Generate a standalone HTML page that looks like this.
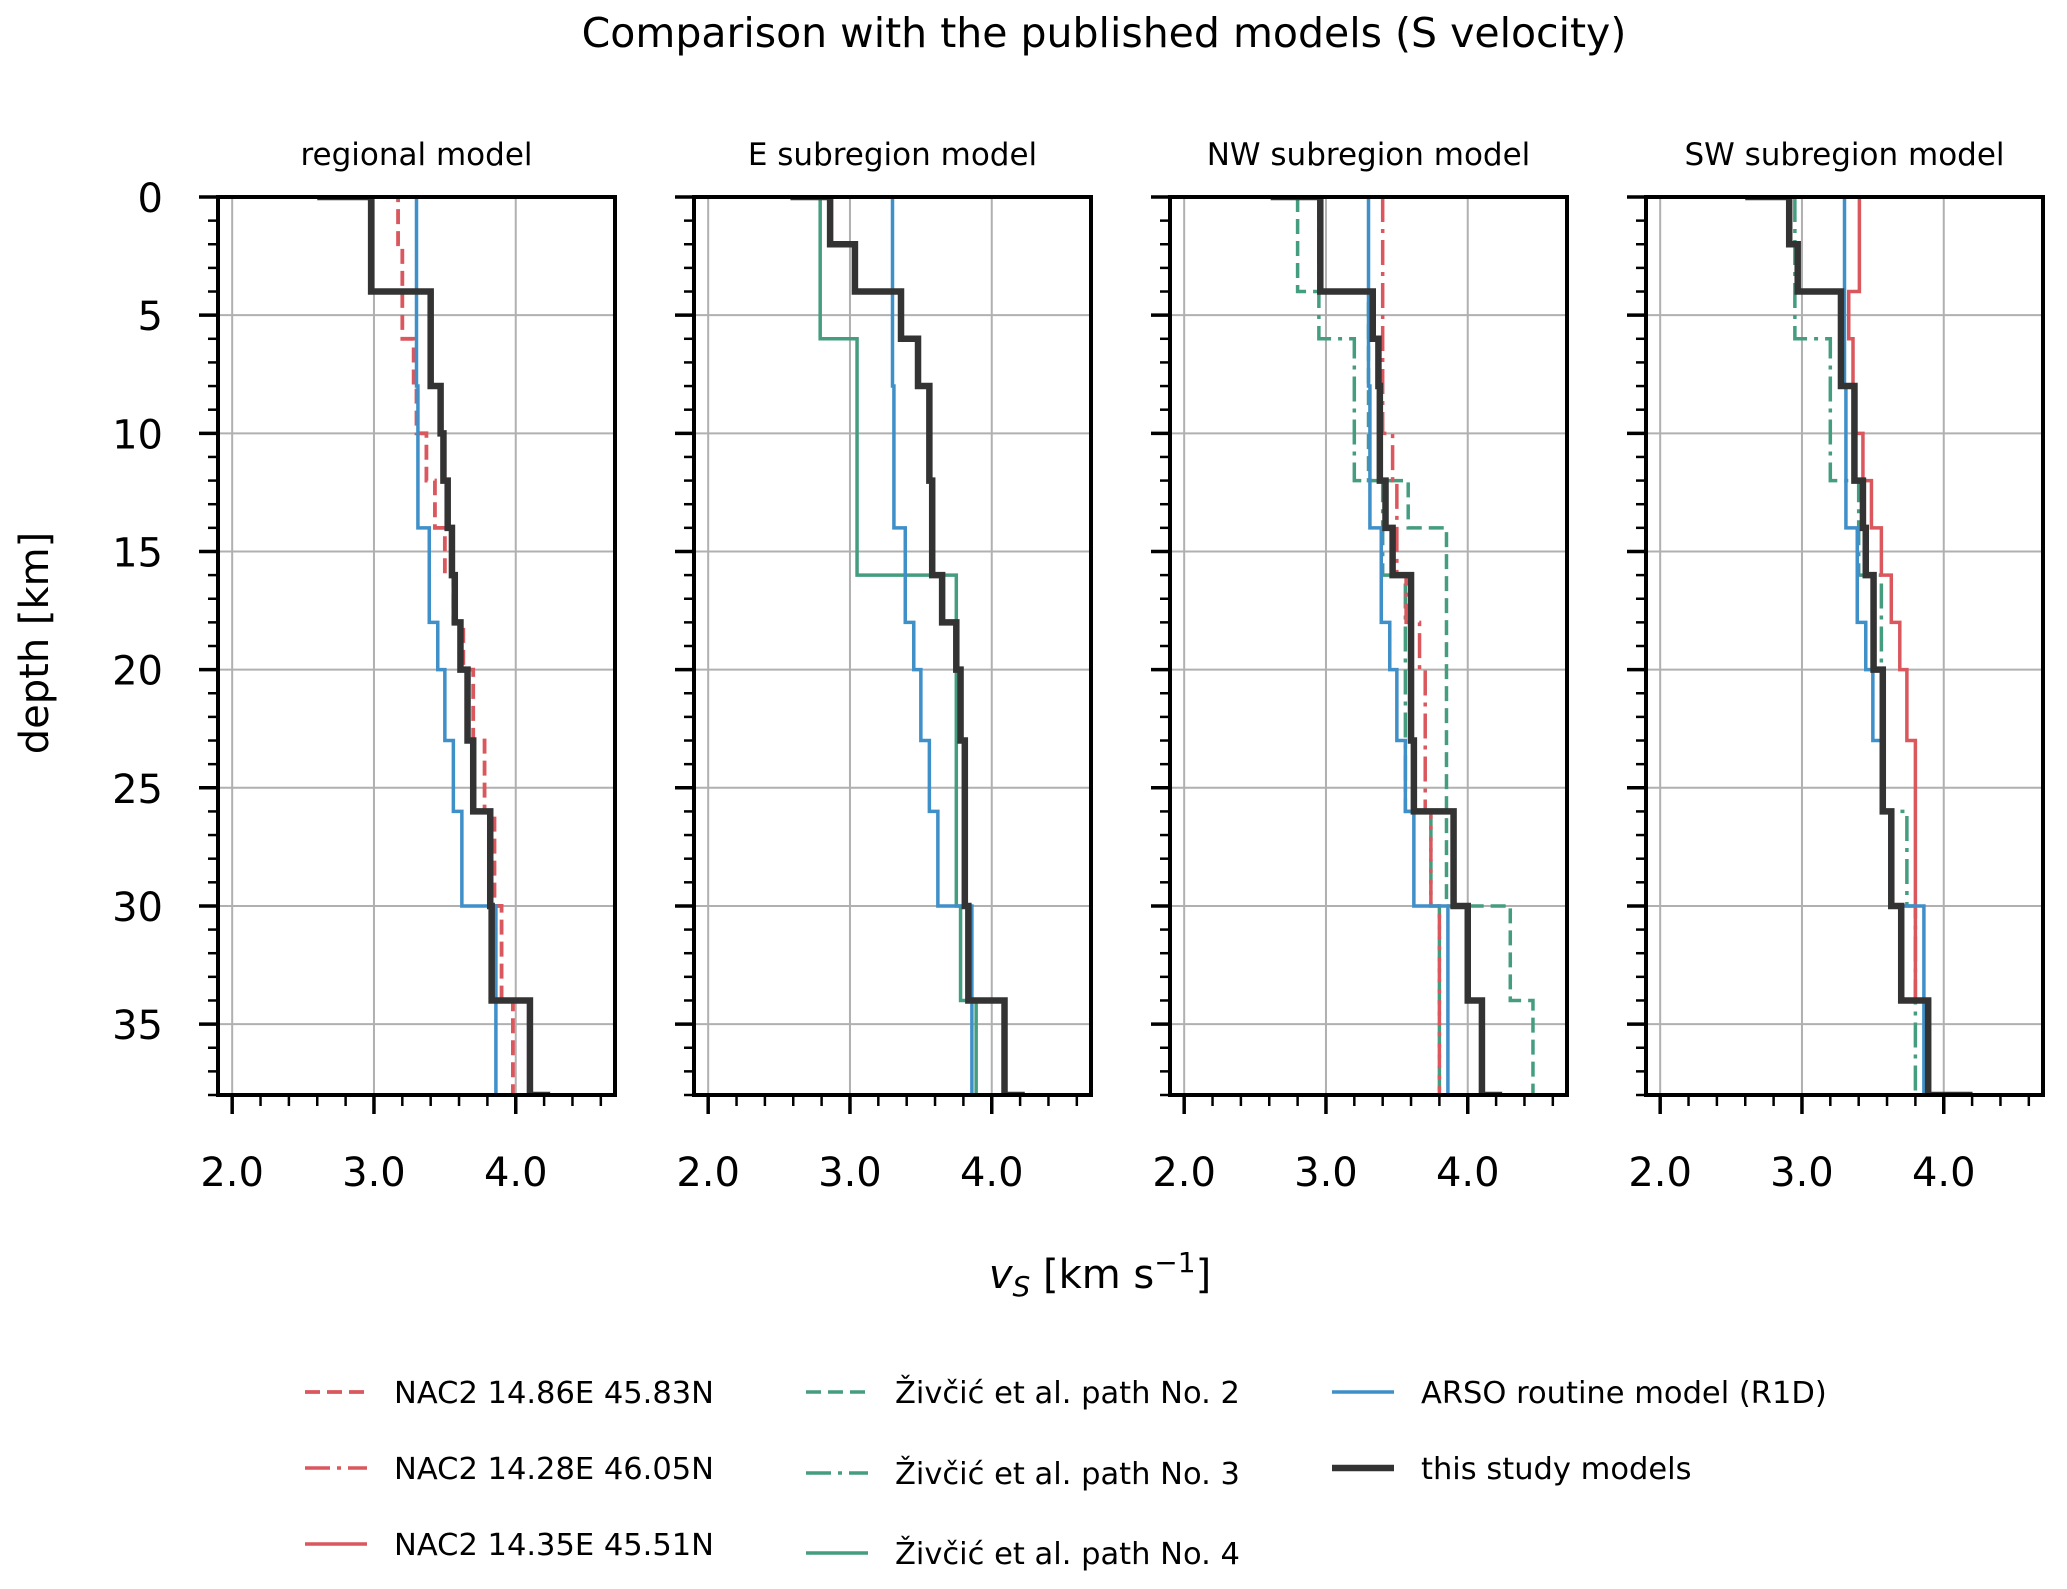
<!DOCTYPE html>
<html><head><meta charset="utf-8"><style>
html,body{margin:0;padding:0;background:#fff;}
svg{display:block;font-family:"DejaVu Sans","Liberation Sans",sans-serif;}
</style></head><body>
<svg id="fig" width="2067" height="1589" viewBox="0 0 2067 1589" xmlns="http://www.w3.org/2000/svg">
<text x="1104" y="47" font-size="41" text-anchor="middle">Comparison with the published models (S velocity)</text>
<text transform="translate(48,643) rotate(-90)" font-size="40" text-anchor="middle">depth [km]</text>
<text x="1100" y="1288" font-size="40" text-anchor="middle"><tspan font-style="italic">v</tspan><tspan font-style="italic" font-size="28" dy="8">S</tspan><tspan dy="-8"> [km s</tspan><tspan font-size="28" dy="-16">−1</tspan><tspan dy="16">]</tspan></text>
<g id="panels"></g>
<g id="legend"></g>
</svg>
<script>
// ---- data ----
const panelTitles = ["regional model","E subregion model","NW subregion model","SW subregion model"];
const xTickLabels = ["2.0","3.0","4.0"];
const yTickLabels = ["0","5","10","15","20","25","30","35"];
// layer tops (depth km) and velocities (km/s)
const r1dDepth = [0,8,14,18,20,23,26,30,38,40];
const r1dVs    = [3.30,3.31,3.39,3.45,3.50,3.56,3.62,3.86,4.21];
const nacADepth = [0,0,2,6,8,10,12,14,16,18,20,23,26,30,34,38];
const nacAVs    = [3.10,3.17,3.20,3.28,3.30,3.37,3.43,3.50,3.56,3.63,3.70,3.78,3.85,3.90,3.98];
const nacBDepth = [0,10,12,16,18,20,26,30,38];
const nacBVs    = [3.40,3.47,3.50,3.565,3.66,3.70,3.74,3.80];
const nacCDepth = [0,4,6,8,10,12,14,16,18,20,23,34,38];
const nacCVs    = [3.405,3.33,3.36,3.38,3.43,3.49,3.56,3.63,3.69,3.74,3.80,3.90];
const path2Depth = [0,4,12,14,30,34,38];
const path2Vs    = [2.80,3.30,3.58,3.85,4.30,4.46];
const path3Depth = [0,6,12,16,26,30,38];
const path3Vs    = [2.95,3.20,3.40,3.56,3.74,3.80];
const path4Depth = [0,6,16,30,34,38];
const path4Vs    = [2.79,3.05,3.75,3.78,3.89];
const studyRegDepth = [0,0,4,8,10,12,14,16,18,20,23,26,30,34,38,40];
const studyRegVs    = [2.6,2.98,3.40,3.47,3.49,3.52,3.55,3.57,3.61,3.66,3.70,3.82,3.83,4.10,4.22];
const studyEDepth = [0,0,2,4,6,8,12,16,18,20,23,30,34,38,40];
const studyEVs    = [2.58,2.86,3.035,3.36,3.48,3.56,3.58,3.65,3.75,3.78,3.81,3.835,4.09,4.21];
const studyNWDepth = [0,0,4,6,8,12,14,16,23,26,30,34,38,40];
const studyNWVs    = [2.61,2.96,3.33,3.37,3.38,3.42,3.47,3.60,3.62,3.90,4.0,4.10,4.22];
const studySWDepth = [0,0,2,4,8,12,14,16,20,26,30,34,38,40];
const studySWVs    = [2.60,2.91,2.97,3.275,3.37,3.43,3.45,3.505,3.57,3.63,3.70,3.89,4.18];

const RED="#d9575d", GREEN="#459d80", BLUE="#3f8fc8", BLACK="#333333";
const styles = {
  nacA:{c:RED,w:3.8,dash:"15 7"}, nacB:{c:RED,w:3.5,dash:"25 7 4 7"}, nacC:{c:RED,w:3.5,dash:""},
  p2:{c:GREEN,w:3.5,dash:"15 7"}, p3:{c:GREEN,w:3.5,dash:"25 7 4 7"}, p4:{c:GREEN,w:3.5,dash:""},
  r1d:{c:BLUE,w:3.5,dash:""}, study:{c:BLACK,w:6.5,dash:""}
};
const panelSeries = [
  [["nacA",nacADepth,nacAVs],["r1d",r1dDepth,r1dVs],["study",studyRegDepth,studyRegVs]],
  [["p4",path4Depth,path4Vs],["r1d",r1dDepth,r1dVs],["study",studyEDepth,studyEVs]],
  [["p2",path2Depth,path2Vs],["p3",path3Depth,path3Vs],["nacB",nacBDepth,nacBVs],["r1d",r1dDepth,r1dVs],["study",studyNWDepth,studyNWVs]],
  [["p3",path3Depth,path3Vs],["nacC",nacCDepth,nacCVs],["r1d",r1dDepth,r1dVs],["study",studySWDepth,studySWVs]]
];
const NS="http://www.w3.org/2000/svg";
const panelLefts=[218,694,1170,1646], PW=397, TOP=197, BOT=1095;
const XMIN=1.9, XMAX=4.7, YMAX=38;
function mk(tag,attrs,parent){const e=document.createElementNS(NS,tag);for(const k in attrs)e.setAttribute(k,attrs[k]);parent.appendChild(e);return e;}
const root=document.getElementById('panels');
panelLefts.forEach((L,pi)=>{
  const xs=v=>L+(v-XMIN)/(XMAX-XMIN)*PW;
  const ys=d=>TOP+d/YMAX*(BOT-TOP);
  const g=mk('g',{},root);
  
  
  const t=mk('text',{x:L+PW/2,y:165,'font-size':31,'text-anchor':'middle'},g);
  t.textContent=panelTitles[pi];
  
  
  const clip=mk('clipPath',{id:'clip'+pi},g);
  mk('rect',{x:L,y:TOP,width:PW,height:BOT-TOP},clip);
  xTickLabels.forEach(lab=>{const x=xs(parseFloat(lab));const gl=mk('line',{x1:x,x2:x,y1:TOP,y2:BOT,stroke:'#b0b0b0','stroke-width':2},g);});
  yTickLabels.forEach(lab=>{const y=ys(parseFloat(lab));const gl=mk('line',{x1:L,x2:L+PW,y1:y,y2:y,stroke:'#b0b0b0','stroke-width':2},g);});
  const sg=mk('g',{'clip-path':'url(#clip'+pi+')'},g);
  panelSeries[pi].forEach(([key,D,V])=>{
    let p='M'+xs(V[0])+','+ys(D[0]);
    for(let i=0;i<V.length;i++){p+=' L'+xs(V[i])+','+ys(D[i+1]);if(i+1<V.length)p+=' L'+xs(V[i+1])+','+ys(D[i+1]);}
    const s=styles[key];
    const path=mk('path',{d:p,fill:'none',stroke:s.c,'stroke-width':s.w,'stroke-dasharray':s.dash,'stroke-linejoin':'miter','stroke-linecap':'butt'},sg);
    
    
  });
  const sp=mk('rect',{x:L,y:TOP,width:PW,height:BOT-TOP,fill:'none',stroke:'#000','stroke-width':4},g);
  
  
  for(let k=0;k<=13;k++){const v=2.0+k*0.2;const x=xs(v);const major=(k%5===0);
    mk('line',{x1:x,x2:x,y1:BOT,y2:BOT+(major?19:11),stroke:'#000','stroke-width':major?3.5:2.5},g);}
  xTickLabels.forEach(lab=>{const tx=mk('text',{x:xs(parseFloat(lab)),y:1186,'font-size':40,'text-anchor':'middle'},g);tx.textContent=lab;
    });
  for(let d=0;d<=YMAX;d++){const y=ys(d);const major=(d%5===0);
    mk('line',{x1:L-(major?19:10),x2:L,y1:y,y2:y,stroke:'#000','stroke-width':major?3.5:2.5},g);}
  if(pi===0){yTickLabels.forEach(lab=>{const ty=mk('text',{x:163,y:ys(parseFloat(lab))+15,'font-size':40,'text-anchor':'end'},g);ty.textContent=lab;
    });}
});
const legendLabels=["NAC2 14.86E 45.83N","NAC2 14.28E 46.05N","NAC2 14.35E 45.51N","Živčić et al. path No. 2","Živčić et al. path No. 3","Živčić et al. path No. 4","ARSO routine model (R1D)","this study models"];
const legendKeys=["nacA","nacB","nacC","p2","p3","p4","r1d","study"];
const legendX=[305,305,305,806,806,806,1332,1332];
const legendY=[1392,1468,1544,1392,1473,1553,1392,1468];
const lg=document.getElementById('legend');
legendLabels.forEach((lab,i)=>{
  const s=styles[legendKeys[i]];
  const e=mk('g',{},lg);
  
  
  mk('line',{x1:legendX[i],x2:legendX[i]+62,y1:legendY[i],y2:legendY[i],stroke:s.c,'stroke-width':s.w,'stroke-dasharray':s.dash},e);
  const t=mk('text',{x:legendX[i]+89,y:legendY[i]+11,'font-size':30.5},e);
  t.textContent=lab;
});
</script>
</body></html>
